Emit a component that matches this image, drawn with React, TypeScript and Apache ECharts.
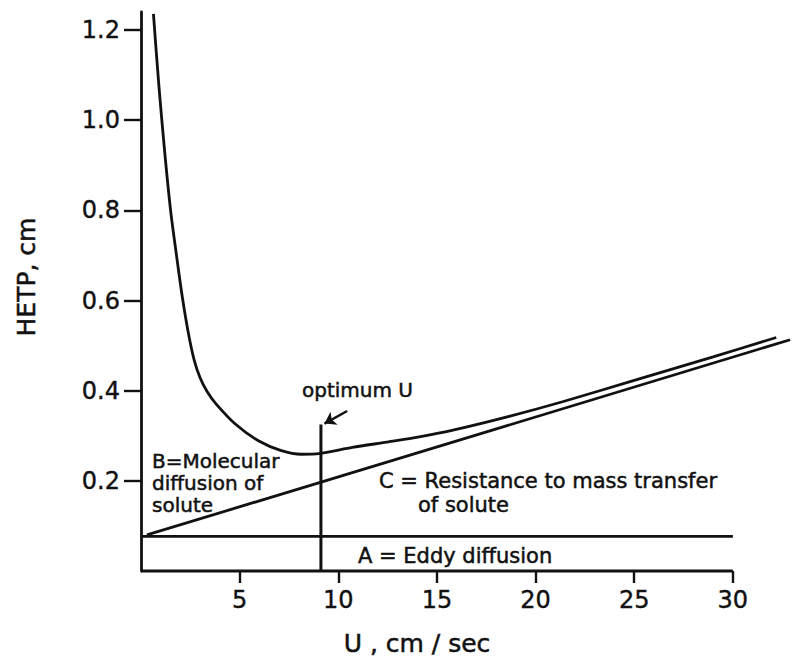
import React, { useEffect, useRef } from "react";
import * as echarts from "echarts";

// Total plate height curve (van Deemter)
const totalU = [0.63, 0.9, 1.2, 1.5, 1.8, 2.1, 2.4, 2.7, 3.0, 3.35, 3.78, 4.78, 5.95, 7.11, 8.13, 9.09, 10.71, 12.46, 14.17, 15.87, 18.66, 21.41, 25, 29, 32.2];
const totalH = [1.236, 1.08, 0.93, 0.8, 0.7, 0.606, 0.528, 0.467, 0.428, 0.398, 0.372, 0.326, 0.289, 0.267, 0.259, 0.261, 0.274, 0.286, 0.298, 0.313, 0.343, 0.376, 0.423, 0.475, 0.518];

// C term line (resistance to mass transfer, drawn on top of A)
const massU = [0.3, 32.9];
const massH = [0.08, 0.513];

// A term line (eddy diffusion)
const eddyU = [0, 30];
const eddyH = [0.077, 0.077];

// optimum velocity marker
const optimumU = [9.12, 9.12];
const optimumH = [0, 0.325];
const arrowFrom = [10.45, 0.355];
const arrowTo = [9.3, 0.327];

// x axis baseline (drawn only up to the last tick)
const baseU = [0, 30];
const baseH = [0, 0];

const xTicks = [5, 10, 15, 20, 25, 30];
const yTicks = [0.2, 0.4, 0.6, 0.8, 1.0, 1.2];

const FONT = "DejaVu Sans";
const INK = "#111";

const zip = (a: number[], b: number[]) => a.map((v, i) => [v, b[i]]);

export default function App() {
  const ref = useRef<HTMLDivElement>(null);
  useEffect(() => {
    if (!ref.current) return;
    const chart = echarts.init(ref.current, undefined, { renderer: "svg" });
    const lineBase = {
      type: "line",
      symbol: "none",
      silent: true,
      clip: false,
      emphasis: { disabled: true },
      lineStyle: { color: INK, width: 2.8 },
    };
    const txt = (text: string, x: number, y: number, size: number, extra: any = {}) => ({
      type: "text",
      x,
      y,
      ...extra,
      style: {
        text,
        fontSize: size,
        fontFamily: FONT,
        fill: INK,
        stroke: INK,
        lineWidth: 0.5,
        verticalAlign: "middle",
        ...(extra.style || {}),
      },
    });
    chart.setOption({
      animation: false,
      backgroundColor: "#ffffff",
      grid: { left: 141, right: 2, top: 12, bottom: 90 },
      xAxis: {
        type: "value",
        min: 0,
        max: 33.2,
        axisLine: { show: false },
        axisTick: { show: true, length: 12, customValues: xTicks, lineStyle: { color: INK, width: 2.4 } },
        axisLabel: {
          customValues: xTicks,
          fontSize: 24,
          margin: 17,
          color: INK,
          fontFamily: FONT,
          textBorderColor: INK,
          textBorderWidth: 0.4,
        },
        splitLine: { show: false },
      },
      yAxis: {
        type: "value",
        min: 0,
        max: 1.24,
        axisLine: { show: true, lineStyle: { color: INK, width: 2.8 } },
        axisTick: { show: true, length: 17, customValues: yTicks, lineStyle: { color: INK, width: 2.4 } },
        axisLabel: {
          customValues: yTicks,
          fontSize: 24,
          margin: 21,
          color: INK,
          fontFamily: FONT,
          textBorderColor: INK,
          textBorderWidth: 0.4,
          formatter: (v: number) => v.toFixed(1),
        },
        splitLine: { show: false },
      },
      series: [
        { ...lineBase, name: "axis", data: zip(baseU, baseH) },
        { ...lineBase, name: "HETP", data: zip(totalU, totalH), smooth: 0.3 },
        { ...lineBase, name: "C", data: zip(massU, massH) },
        { ...lineBase, name: "A", data: zip(eddyU, eddyH) },
        {
          ...lineBase,
          name: "optimum",
          data: zip(optimumU, optimumH),
          lineStyle: { color: INK, width: 3 },
          markLine: {
            silent: true,
            symbol: ["none", "arrow"],
            symbolSize: 11,
            label: { show: false },
            emphasis: { disabled: true },
            lineStyle: { color: INK, width: 2.4, type: "solid" },
            data: [[{ coord: arrowFrom }, { coord: arrowTo }]],
          },
        },
      ],
      graphic: [
        txt("B=Molecular\ndiffusion of\nsolute", 152, 450, 20, { style: { lineHeight: 22, verticalAlign: "top" } }),
        txt("C = Resistance to mass transfer", 379, 481, 21),
        txt("of solute", 418, 505, 21),
        txt("A = Eddy diffusion", 358, 556, 21),
        txt("optimum U", 302, 390, 20),
        txt("U , cm / sec", 417, 643, 25, { style: { align: "center" } }),
        txt("HETP, cm", 26, 277, 25, { rotation: Math.PI / 2, style: { align: "center" } }),
      ],
    });
    return () => chart.dispose();
  }, []);
  return <div ref={ref} style={{ width: 798, height: 661, position: "absolute", left: 0, top: 0 }} />;
}
